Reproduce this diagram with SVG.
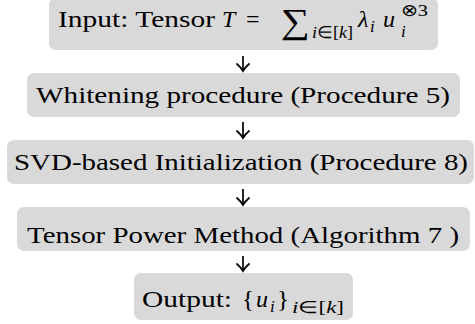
<svg xmlns="http://www.w3.org/2000/svg" width="475" height="324" viewBox="0 0 475 324">
<defs>
<style>
.box{fill:#d9d9d9;}
text{font-family:'Liberation Serif','Times New Roman',serif;font-size:24px;fill:#000;}
.it{font-style:italic;}
.s{font-size:17px;}
.c{stroke:#000;stroke-width:1.7;fill:none;}
</style>
<marker id="ah" viewBox="-9 -8 11 16" markerWidth="11" markerHeight="16" refX="0" refY="0" orient="auto" markerUnits="userSpaceOnUse">
<path d="M -7.5 -6.5 Q -3.5 -2 0 0 Q -3.5 2 -7.5 6.5" stroke="#000" stroke-width="1.7" fill="none"/>
</marker>
</defs>
<rect width="475" height="324" fill="#fff"/>
<g id="connectors">
<line class="c" x1="243" y1="56" x2="243" y2="71" marker-end="url(#ah)"/>
<line class="c" x1="243" y1="122" x2="243" y2="138" marker-end="url(#ah)"/>
<line class="c" x1="243" y1="189" x2="243" y2="205" marker-end="url(#ah)"/>
<line class="c" x1="243" y1="256" x2="243" y2="271" marker-end="url(#ah)"/>
</g>
<g id="n1">
<rect class="box" x="49" y="-2" width="389" height="52" rx="7"/>
<text x="58" y="27" textLength="157" lengthAdjust="spacingAndGlyphs">Input: Tensor</text>
<text class="it" x="222" y="27">T</text>
<text x="246" y="27">=</text>
<text x="281" y="33" textLength="29" lengthAdjust="spacingAndGlyphs" style="font-size:35px">∑</text>
<text class="it s" x="312" y="38" textLength="41" lengthAdjust="spacingAndGlyphs">i<tspan font-style="normal">∈[</tspan>k<tspan font-style="normal">]</tspan></text>
<text class="it" x="358" y="27">λ</text>
<text class="it s" x="370" y="32">i</text>
<text class="it" x="383" y="27">u</text>
<text x="401" y="16" style="font-size:17px" textLength="27" lengthAdjust="spacingAndGlyphs">⊗3</text>
<text class="it s" x="401" y="37">i</text>
</g>
<g id="n2">
<rect class="box" x="27" y="73" width="433" height="44" rx="7"/>
<text x="36" y="103" textLength="414" lengthAdjust="spacingAndGlyphs">Whitening procedure (Procedure 5)</text>
</g>
<g id="n3">
<rect class="box" x="7" y="140" width="467" height="44" rx="7"/>
<text x="14" y="170" textLength="454" lengthAdjust="spacingAndGlyphs">SVD-based Initialization (Procedure 8)</text>
</g>
<g id="n4">
<rect class="box" x="17" y="207" width="453" height="44" rx="7"/>
<text x="27" y="243" textLength="432" lengthAdjust="spacingAndGlyphs">Tensor Power Method (Algorithm 7 )</text>
</g>
<g id="n5">
<rect class="box" x="134" y="273" width="219" height="47" rx="7"/>
<text x="142" y="307" textLength="90" lengthAdjust="spacingAndGlyphs">Output:</text>
<text x="242" y="307" textLength="12" lengthAdjust="spacingAndGlyphs">{</text>
<text class="it" x="256" y="307">u</text>
<text class="it s" x="270" y="312">i</text>
<text x="277" y="307" textLength="12" lengthAdjust="spacingAndGlyphs">}</text>
<text class="it s" x="292" y="313" textLength="52" lengthAdjust="spacingAndGlyphs">i<tspan font-style="normal">∈[</tspan>k<tspan font-style="normal">]</tspan></text>
</g>
</svg>
